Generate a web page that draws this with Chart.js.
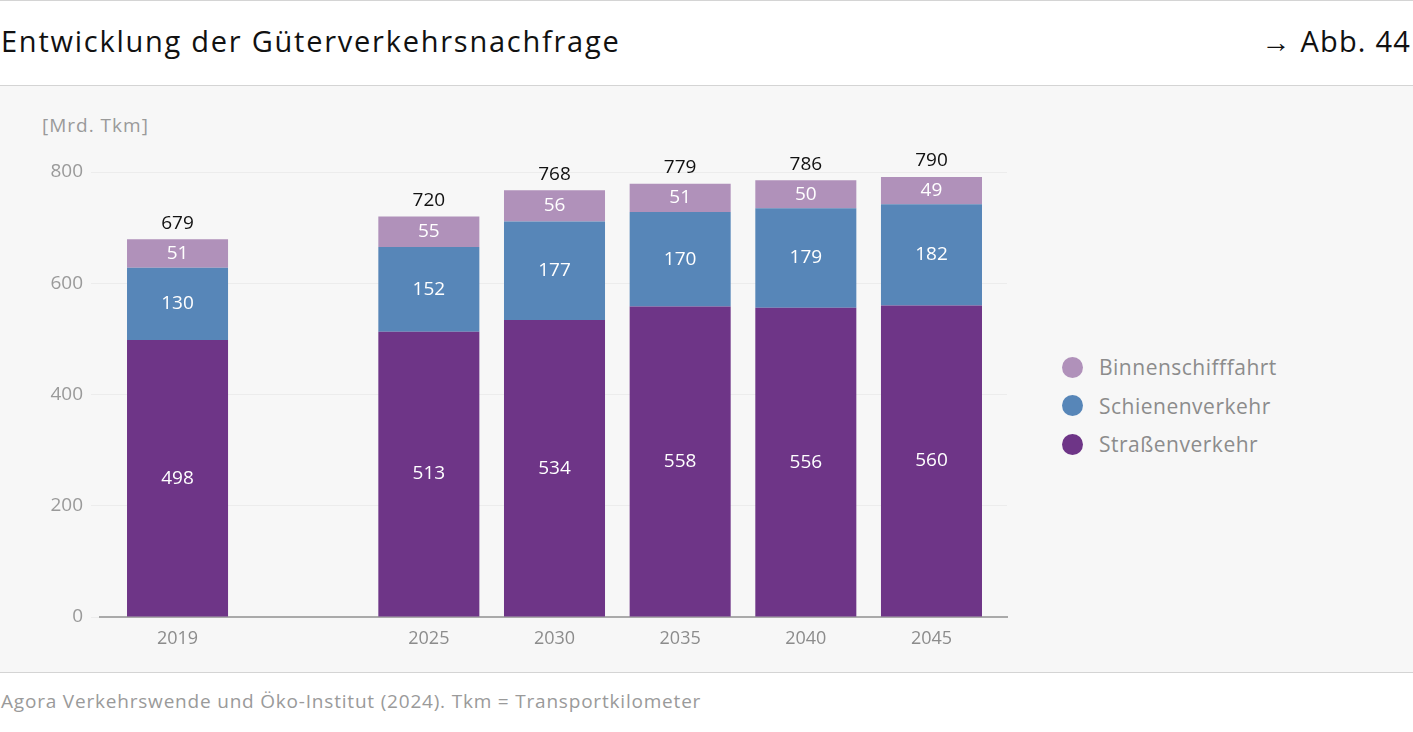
<!DOCTYPE html>
<html lang="de">
<head>
<meta charset="UTF-8">
<title>Entwicklung der Güterverkehrsnachfrage</title>
<script src="https://cdn.jsdelivr.net/npm/chart.js"></script>
<style>
  html, body { margin: 0; padding: 0; background: #fff; }
  body { width: 1413px; height: 732px; position: relative; overflow: hidden; font-family: "Open Sans", Roboto, sans-serif; }
  .topline { position: absolute; left: 0; top: 0; width: 1413px; height: 1px; background: #d4d4d4; }
  .title { position: absolute; left: 1px; top: 21px; font-size: 29px; letter-spacing: 1.75px; color: #111; white-space: nowrap; }
  .abb { position: absolute; right: 2px; top: 21px; font-size: 29px; letter-spacing: 1.2px; color: #111; white-space: nowrap; }
  .panel { position: absolute; left: 0; top: 85px; width: 1413px; height: 586px; background: #f7f7f7;
           border-top: 1px solid #d4d4d4; border-bottom: 1px solid #d4d4d4; }
  .unit { position: absolute; left: 42px; top: 26px; font-size: 19px; letter-spacing: 1px; color: #9a9a9a; }
  #wrap { position: absolute; left: 0; top: 0; width: 1040px; height: 586px; }
  .legend { position: absolute; left: 1062px; top: 262px; }
  .legend div { height: 38.5px; display: flex; align-items: center; font-size: 21px; letter-spacing: 0.5px; color: #8c8c8c; }
  .legend span { display: inline-block; width: 21px; height: 21px; border-radius: 50%; margin-right: 16px; }
  .source { position: absolute; left: 1px; top: 688px; font-size: 19px; letter-spacing: 0.8px; color: #9a9a9a; white-space: nowrap; }
</style>
</head>
<body>
<div class="topline"></div>
<div class="title">Entwicklung der Güterverkehrsnachfrage</div>
<div class="abb">→ Abb. 44</div>
<div class="panel">
  <div class="unit">[Mrd. Tkm]</div>
  <div id="wrap"><canvas id="chart"></canvas></div>
  <div class="legend" id="legend"></div>
</div>
<div class="source">Agora Verkehrswende und Öko-Institut (2024). Tkm = Transportkilometer</div>

<script>
// leere Kategorie zwischen 2019 und 2025 als Abstand
const categories = ['2019', '', '2025', '2030', '2035', '2040', '2045'];
const strasse  = [498, null, 513, 534, 558, 556, 560];
const schiene  = [130, null, 152, 177, 170, 179, 182];
const binnen   = [51,  null, 55,  56,  51,  50,  49];
const totals   = [679, null, 720, 768, 779, 786, 790];
const yTicks   = [0, 200, 400, 600, 800];

const series = [
  { label: 'Straßenverkehr',    data: strasse, color: '#6e3587' },
  { label: 'Schienenverkehr',   data: schiene, color: '#5786b8' },
  { label: 'Binnenschifffahrt', data: binnen,  color: '#b091ba' }
];

const FONT = '"Open Sans", Roboto, sans-serif';

const points = arr => categories
  .map((c, i) => ({ x: i, y: arr[i] }))
  .filter(p => p.y !== null);

const labelPlugin = {
  id: 'barLabels',
  afterDatasetsDraw(chart) {
    const ctx = chart.ctx;
    ctx.save();
    ctx.textAlign = 'center';
    ctx.textBaseline = 'middle';
    ctx.font = '500 19px ' + FONT;
    ctx.fillStyle = '#fff';
    chart.data.datasets.forEach((ds, di) => {
      chart.getDatasetMeta(di).data.forEach((bar, j) => {
        ctx.fillText(ds.data[j].y, bar.x, (bar.y + bar.base) / 2);
      });
    });
    const top = chart.getDatasetMeta(chart.data.datasets.length - 1).data;
    const pts = points(totals);
    ctx.fillStyle = '#111';
    top.forEach((bar, j) => {
      ctx.fillText(pts[j].y, bar.x, bar.y - 16);
    });
    ctx.restore();
  }
};

new Chart(document.getElementById('chart'), {
  type: 'bar',
  data: {
    datasets: series.map(s => ({
      label: s.label,
      data: points(s.data),
      backgroundColor: s.color,
      borderWidth: 0,
      barPercentage: 0.804,
      categoryPercentage: 1
    }))
  },
  options: {
    responsive: true,
    maintainAspectRatio: false,
    animation: false,
    layout: { padding: { top: 86, right: 33, bottom: 0, left: 0 } },
    plugins: { legend: { display: false }, tooltip: { enabled: false } },
    scales: {
      x: {
        type: 'linear',
        offset: false,
        stacked: true,
        min: -0.617,
        max: 6.601,
        afterBuildTicks: s => {
          s.ticks = categories.map((c, i) => ({ value: i })).filter(t => categories[t.value] !== '');
        },
        afterFit: s => { s.height = 55; },
        grid: { display: false },
        border: { display: true, color: '#aaaaaa', width: 2 },
        ticks: {
          padding: 3,
          color: '#8c8c8c',
          font: { family: FONT, size: 18 },
          callback: v => categories[v]
        }
      },
      y: {
        stacked: true,
        min: 0,
        max: 800,
        afterBuildTicks: s => { s.ticks = yTicks.map(v => ({ value: v })); },
        afterFit: s => { s.width = 100; },
        border: { display: false },
        grid: { color: '#ececec', lineWidth: 1, tickLength: 9 },
        ticks: {
          padding: 8,
          color: '#9a9a9a',
          font: { family: FONT, size: 19 }
        }
      }
    }
  },
  plugins: [labelPlugin]
});

// Legende (oben: Binnenschifffahrt)
const legend = document.getElementById('legend');
series.slice().reverse().forEach(s => {
  const row = document.createElement('div');
  row.innerHTML = '<span style="background:' + s.color + '"></span>' + s.label;
  legend.appendChild(row);
});
</script>
</body>
</html>
